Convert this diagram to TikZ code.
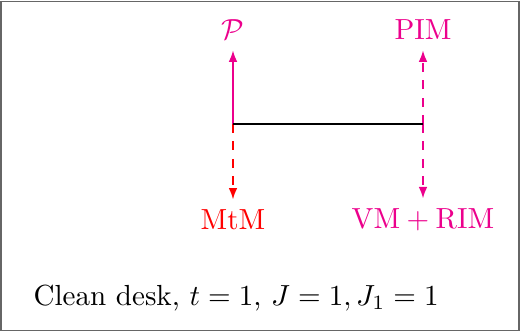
\documentclass[tikz,border=0pt]{standalone}
\usetikzlibrary{arrows.meta}
\definecolor{pinkc}{RGB}{236,0,140}
\begin{document}
\begin{tikzpicture}[x=0.344pt,y=-0.344pt,
  conn/.style={line width=0.7pt,-{Latex[length=4pt,width=3pt]}},
  dconn/.style={conn,dashed},
  lbl/.style={inner sep=3.33pt}]
\useasboundingbox (0,0) rectangle (520,331);
\draw[black!60,line width=0.35pt] (1,1) rectangle (519,330);
\coordinate (a) at (233,124);
\coordinate (b) at (423,124);
\node[lbl,text=pinkc] (p) at (233,30) {$\mathcal{P}$};
\node[lbl,text=pinkc] (pim) at (423,30) {PIM};
\node[lbl,text=red] (mtm) at (233,220) {MtM};
\node[lbl,text=pinkc] (vm) at (423,220) {$\mathrm{VM}+\mathrm{RIM}$};
\node[anchor=base west,inner sep=0pt] (cap) at (33,305) {Clean desk, $t=1$, $J=1, J_1=1$};
\draw[dconn,red] (a) -- (mtm);
\draw[conn,pinkc] (a) -- (p);
\draw[dconn,pinkc] (b) -- (pim);
\draw[dconn,pinkc] (b) -- (vm);
\draw[line width=0.7pt] (a) -- (b);
\end{tikzpicture}
\end{document}
